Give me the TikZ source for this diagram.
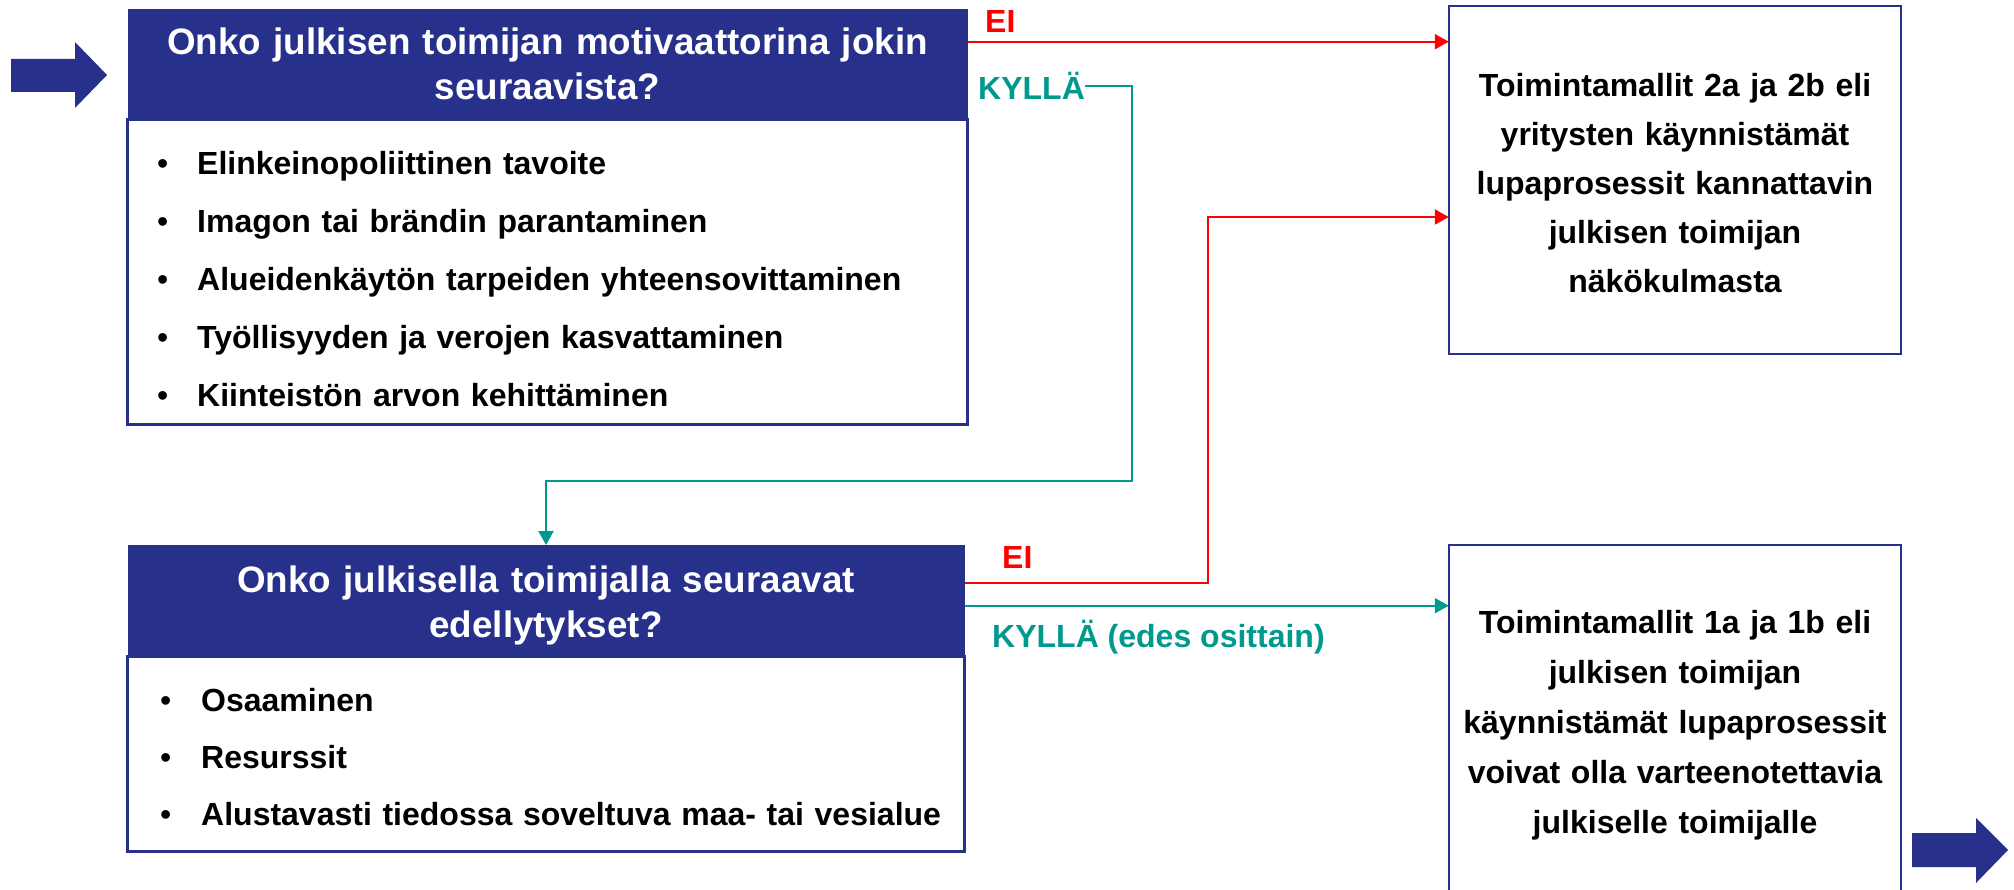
\documentclass[tikz,border=0pt]{standalone}
\usepackage{fontspec}
\setmainfont{Liberation Sans}
\usetikzlibrary{arrows.meta}
\definecolor{navy}{RGB}{39,49,139}
\definecolor{tealc}{RGB}{0,153,142}
\definecolor{redc}{RGB}{255,0,0}
\newcommand{\itembul}[1]{\makebox[#1][l]{\mdseries •}}
\begin{document}
\begin{tikzpicture}[x=1pt,y=-1pt,
  hdr/.style={rectangle, fill=navy, draw=none, inner sep=0pt, outer sep=0pt},
  bodybox/.style={rectangle, draw=navy, line width=3pt, fill=white, inner sep=0pt, outer sep=0pt},
  resbox/.style={rectangle, draw=navy, line width=2pt, fill=white, inner sep=0pt, outer sep=0pt},
  titletext/.style={text=white, font=\fontsize{36.8}{45}\selectfont\bfseries, align=center, text width=840pt, anchor=base, inner sep=0pt},
  itemtext/.style={font=\fontsize{32}{58}\selectfont\bfseries, align=left, text width=790pt, anchor=base west, inner sep=0pt},
  restext/.style={font=\fontsize{32}{50}\selectfont\bfseries, align=center, text width=452pt, anchor=base, inner sep=0pt},
  redlbl/.style={text=redc, font=\fontsize{32}{38}\selectfont\bfseries, anchor=base west, inner sep=0pt},
  teallbl/.style={text=tealc, font=\fontsize{32}{38}\selectfont\bfseries, anchor=base west, inner sep=0pt},
  redarrow/.style={draw=redc, line width=2.2pt, -{Triangle[length=14pt,width=15pt]}},
  tealarrow/.style={draw=tealc, line width=2pt, -{Triangle[length=14pt,width=15pt]}},
  blockarrow/.style={fill=navy, draw=none}]
\useasboundingbox[fill=white] (0,0) rectangle (2014,890);

% block arrows
\fill[blockarrow] (11,59) -- (75,59) -- (75,42) -- (107,75) -- (75,108) -- (75,92) -- (11,92) -- cycle;
\fill[blockarrow] (1912,833) -- (1976,833) -- (1976,818) -- (2008,850) -- (1976,883) -- (1976,867) -- (1912,867) -- cycle;

% question 1
\node[bodybox, minimum width=840pt, minimum height=305pt] (b1) at (547.5,272.5) {};
\node[hdr, minimum width=840pt, minimum height=111pt] (h1) at (547.5,64.5) {};
\node[titletext] (t1) at (547.5,55) {Onko julkisen toimijan motivaattorina jokin\\ seuraavista?};
\node[itemtext] (l1) at (157,175) {\itembul{40pt}Elinkeinopoliittinen tavoite\\
\itembul{40pt}Imagon tai brändin parantaminen\\
\itembul{40pt}Alueidenkäytön tarpeiden yhteensovittaminen\\
\itembul{40pt}Työllisyyden ja verojen kasvattaminen\\
\itembul{40pt}Kiinteistön arvon kehittäminen};

% question 2
\node[bodybox, minimum width=837pt, minimum height=195pt] (b2) at (546,753.5) {};
\node[hdr, minimum width=837pt, minimum height=111pt] (h2) at (546,600.5) {};
\node[titletext, text width=837pt] (t2) at (546,592.5) {Onko julkisella toimijalla seuraavat\\ edellytykset?};
\node[itemtext, font=\fontsize{32}{57}\selectfont\bfseries] (l2) at (160,711) {\itembul{41pt}Osaaminen\\
\itembul{41pt}Resurssit\\
\itembul{41pt}Alustavasti tiedossa soveltuva maa- tai vesialue};

% results
\node[resbox, minimum width=452.5pt, minimum height=348pt] (r1) at (1675,180) {};
\node[restext, font=\fontsize{32}{49}\selectfont\bfseries] (rt1) at (1675,97) {Toimintamallit 2a ja 2b eli\\ yritysten käynnistämät\\ lupaprosessit kannattavin\\ julkisen toimijan\\ näkökulmasta};
\node[resbox, minimum width=452.5pt, minimum height=355pt] (r2) at (1675,722.5) {};
\node[restext] (rt2) at (1675,633) {Toimintamallit 1a ja 1b eli\\ julkisen toimijan\\ käynnistämät lupaprosessit\\ voivat olla varteenotettavia\\ julkiselle toimijalle};

% labels
\node[redlbl] (ei1) at (985,33) {EI};
\node[teallbl] (k1) at (978,100) {KYLLÄ};
\node[redlbl] (ei2) at (1002,568) {EI};
\node[teallbl] (k2) at (992,647) {KYLLÄ (edes osittain)};

% connectors
\draw[redarrow] (h1.east) ++(0,-22.8) coordinate (e1) -- (e1 -| r1.west);
\draw[tealarrow] (k1.east |- 0,86) -| (1132,481) -- (h2.north |- 0,481) -- (h2.north);
\draw[redarrow] (h2.east) ++(0,-17.5) -| (1208,217) -- (r1.west |- 0,217);
\draw[tealarrow] (h2.east) ++(0,5.2) coordinate (e2) -- (e2 -| r2.west);
\end{tikzpicture}
\end{document}
